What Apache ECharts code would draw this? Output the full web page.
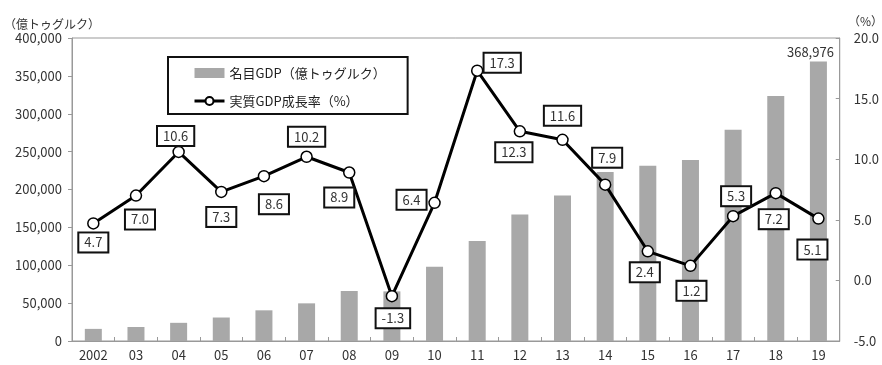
<!DOCTYPE html>
<html><head><meta charset="utf-8">
<script src="https://cdn.jsdelivr.net/npm/echarts@6/dist/echarts.min.js"></script>
<style>html,body{margin:0;padding:0;background:#fff}#c{width:882px;height:365px}</style>
</head><body><div id="c"></div>
<script>
const categories = ['2002','03','04','05','06','07','08','09','10','11','12','13','14','15','16','17','18','19'];
const nominalGDP = [16000,18500,24000,31000,40500,49700,66000,65500,98000,132000,167000,192000,223000,231500,239000,279000,323500,368976];
const growthRate = [4.7,7.0,10.6,7.3,8.6,10.2,8.9,-1.3,6.4,17.3,12.3,11.6,7.9,2.4,1.2,5.3,7.2,5.1];
const leftTicks = {min:0, max:400000, interval:50000};
const rightTicks = {min:-5, max:20, interval:5};
// label placement (layout only): offset of each value box from its point
const labelOffsets = [[0,19],[4,24],[-3,-16],[0,25],[10,28],[0,-20],[-10,25],[1,22],[-23,-3],[25,-8],[-6,21],[0,-24],[2,-27],[-3,21],[1,25],[3,-20],[-2,26],[-6,31]];

const FONT = '"Noto Sans CJK JP","Noto Sans",sans-serif';
const comma = v => String(v).replace(/\B(?=(\d{3})+(?!\d))/g, ',');
const chart = echarts.init(document.getElementById('c'));
const barName = '名目GDP（億トゥグルク）';
const lineName = '実質GDP成長率（%）';

chart.setOption({
  animation: false,
  textStyle: {fontFamily: FONT},
  grid: {left: 72, right: 41, top: 38, bottom: 24, show: true, borderColor: '#999', borderWidth: 1, backgroundColor: 'transparent'},
  legend: {
    orient: 'vertical', left: 168, top: 57,
    padding: [7, 22, 4, 25], itemGap: 10,
    itemWidth: 30, itemHeight: 10,
    borderColor: '#111', borderWidth: 2, backgroundColor: '#fff',
    lineStyle: {width: 3},
    textStyle: {fontSize: 13, color: '#222', fontFamily: FONT, lineHeight: 18},
    data: [{name: barName, icon: 'rect'}, {name: lineName}]
  },
  graphic: [
    {type: 'text', left: 4, top: 18, style: {text: '（億トゥグルク）', fontSize: 12, fill: '#333', fontFamily: FONT}},
    {type: 'text', left: 848, top: 15, style: {text: '（%）', fontSize: 12, fill: '#333', fontFamily: FONT}}
  ],
  xAxis: {
    type: 'category', data: categories, boundaryGap: true,
    axisLine: {lineStyle: {color: '#999', width: 1}},
    axisTick: {show: true, inside: true, length: 4, lineStyle: {color: '#999'}},
    axisLabel: {fontSize: 13, color: '#333', margin: 8, interval: 0}
  },
  yAxis: [
    {type: 'value', min: leftTicks.min, max: leftTicks.max, interval: leftTicks.interval,
     axisLine: {show: true, lineStyle: {color: '#999'}},
     axisTick: {show: true, length: 4, lineStyle: {color: '#999'}},
     splitLine: {show: false},
     axisLabel: {fontSize: 13, color: '#333', margin: 10, formatter: v => comma(v)}},
    {type: 'value', min: rightTicks.min, max: rightTicks.max, interval: rightTicks.interval, position: 'right',
     axisLine: {show: true, lineStyle: {color: '#999'}},
     axisTick: {show: true, inside: true, length: 4, lineStyle: {color: '#999'}},
     splitLine: {show: false},
     axisLabel: {fontSize: 13, color: '#333', margin: 14, formatter: v => v.toFixed(1)}}
  ],
  series: [
    {name: barName, type: 'bar', yAxisIndex: 0, barWidth: 17,
     itemStyle: {color: '#a8a8a8'},
     data: nominalGDP.map((v, i) => i === nominalGDP.length - 1
       ? {value: v, label: {show: true, position: 'top', offset: [-8, 0], distance: 3, fontSize: 13, color: '#333', formatter: p => comma(p.value)}}
       : v)},
    {name: lineName, type: 'line', yAxisIndex: 1, z: 5,
     symbol: 'circle', symbolSize: 11, showAllSymbol: true,
     lineStyle: {color: '#000', width: 3},
     itemStyle: {color: '#fff', borderColor: '#000', borderWidth: 1.5},
     label: {show: true, position: 'inside', fontSize: 13, color: '#333',
       backgroundColor: '#fff', borderColor: '#111', borderWidth: 2, padding: [3, 5, 2, 5],
       formatter: p => p.value.toFixed(1)},
     data: growthRate.map((v, i) => ({value: v, label: {offset: labelOffsets[i]}}))}
  ]
});
</script></body></html>
